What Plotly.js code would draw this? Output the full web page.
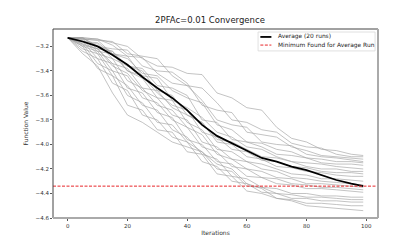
<!DOCTYPE html>
<html>
<head>
<meta charset="utf-8">
<script src="https://cdn.plot.ly/plotly-3.0.1.min.js"></script>
<style>html,body{margin:0;padding:0;background:#fff;}#chart{width:420px;height:245px;}</style>
</head>
<body>
<div id="chart"></div>
<script>
const TITLE = "2PFAc=0.01 Convergence";
const X_LABEL = "Iterations";
const Y_LABEL = "Function Value";
const AVG_NAME = "Average (20 runs)";
const MIN_NAME = "Minimum Found for Average Run";

const iterations = [0,5,10,15,20,25,30,35,40,45,50,55,60,65,70,75,80,85,90,95,99];

const run01 = [-3.13,-3.13,-3.14,-3.17,-3.20,-3.30,-3.36,-3.37,-3.42,-3.43,-3.58,-3.62,-3.70,-3.72,-3.86,-3.95,-3.98,-4.04,-4.05,-4.08,-4.09];
const run02 = [-3.13,-3.14,-3.15,-3.16,-3.26,-3.28,-3.30,-3.44,-3.52,-3.54,-3.66,-3.80,-3.82,-3.88,-3.90,-3.99,-4.02,-4.03,-4.08,-4.10,-4.10];
const run03 = [-3.13,-3.13,-3.20,-3.22,-3.23,-3.36,-3.40,-3.41,-3.50,-3.68,-3.72,-3.74,-3.90,-3.92,-3.94,-4.02,-4.05,-4.09,-4.10,-4.11,-4.12];
const run04 = [-3.13,-3.13,-3.14,-3.19,-3.28,-3.29,-3.42,-3.50,-3.52,-3.64,-3.80,-3.84,-3.86,-3.98,-4.00,-4.01,-4.08,-4.10,-4.11,-4.13,-4.14];
const run05 = [-3.13,-3.16,-3.17,-3.26,-3.30,-3.42,-3.44,-3.56,-3.62,-3.66,-3.84,-3.88,-3.98,-3.99,-4.04,-4.06,-4.11,-4.12,-4.14,-4.14,-4.15];
const run06 = [-3.13,-3.13,-3.22,-3.24,-3.36,-3.38,-3.52,-3.54,-3.60,-3.80,-3.82,-3.96,-3.98,-4.02,-4.08,-4.09,-4.11,-4.15,-4.16,-4.16,-4.17];
const run07 = [-3.13,-3.14,-3.15,-3.26,-3.28,-3.44,-3.46,-3.64,-3.70,-3.78,-3.90,-3.94,-4.02,-4.04,-4.10,-4.14,-4.15,-4.16,-4.18,-4.19,-4.20];
const run08 = [-3.13,-3.17,-3.18,-3.30,-3.36,-3.40,-3.56,-3.60,-3.76,-3.82,-3.96,-3.98,-4.04,-4.10,-4.11,-4.14,-4.18,-4.20,-4.20,-4.22,-4.22];
const run09 = [-3.13,-3.13,-3.20,-3.24,-3.40,-3.44,-3.58,-3.68,-3.72,-3.90,-3.94,-4.04,-4.06,-4.13,-4.14,-4.18,-4.19,-4.22,-4.23,-4.23,-4.24];
const run10 = [-3.13,-3.18,-3.22,-3.34,-3.38,-3.54,-3.56,-3.70,-3.76,-3.82,-3.98,-4.00,-4.10,-4.12,-4.18,-4.19,-4.22,-4.23,-4.25,-4.26,-4.26];
const run11 = [-3.13,-3.14,-3.24,-3.26,-3.40,-3.46,-3.62,-3.64,-3.82,-3.88,-4.04,-4.06,-4.14,-4.16,-4.20,-4.24,-4.25,-4.28,-4.28,-4.29,-4.30];
const run12 = [-3.13,-3.19,-3.22,-3.36,-3.42,-3.56,-3.62,-3.76,-3.80,-3.98,-4.02,-4.12,-4.14,-4.20,-4.22,-4.27,-4.28,-4.30,-4.31,-4.32,-4.33];
const run13 = [-3.13,-3.15,-3.26,-3.30,-3.48,-3.54,-3.68,-3.72,-3.86,-3.92,-4.08,-4.12,-4.20,-4.22,-4.27,-4.28,-4.32,-4.32,-4.33,-4.34,-4.35];
const run14 = [-3.13,-3.20,-3.24,-3.40,-3.44,-3.62,-3.66,-3.80,-3.86,-4.02,-4.06,-4.18,-4.20,-4.27,-4.28,-4.32,-4.33,-4.35,-4.35,-4.36,-4.37];
const run15 = [-3.13,-3.16,-3.30,-3.34,-3.54,-3.58,-3.74,-3.78,-3.96,-4.00,-4.14,-4.16,-4.26,-4.27,-4.32,-4.33,-4.36,-4.36,-4.37,-4.38,-4.39];
const run16 = [-3.13,-3.22,-3.26,-3.44,-3.52,-3.68,-3.72,-3.88,-3.94,-4.08,-4.12,-4.26,-4.28,-4.35,-4.36,-4.40,-4.40,-4.42,-4.42,-4.43,-4.43];
const run17 = [-3.13,-3.18,-3.34,-3.40,-3.60,-3.66,-3.82,-3.84,-3.98,-4.06,-4.20,-4.22,-4.34,-4.35,-4.40,-4.41,-4.43,-4.43,-4.44,-4.45,-4.45];
const run18 = [-3.13,-3.24,-3.30,-3.50,-3.56,-3.76,-3.80,-3.94,-3.98,-4.14,-4.18,-4.30,-4.32,-4.39,-4.40,-4.44,-4.44,-4.46,-4.46,-4.47,-4.47];
const run19 = [-3.13,-3.20,-3.38,-3.44,-3.68,-3.72,-3.88,-3.90,-4.06,-4.08,-4.24,-4.26,-4.38,-4.40,-4.44,-4.45,-4.48,-4.48,-4.49,-4.50,-4.50];
const run20 = [-3.13,-3.26,-3.36,-3.58,-3.76,-3.82,-3.90,-3.98,-4.02,-4.06,-4.16,-4.20,-4.32,-4.36,-4.44,-4.46,-4.50,-4.51,-4.52,-4.53,-4.54];

const average = [-3.13,-3.16,-3.20,-3.27,-3.35,-3.45,-3.54,-3.62,-3.72,-3.84,-3.93,-3.99,-4.05,-4.11,-4.14,-4.18,-4.21,-4.25,-4.29,-4.32,-4.34];
const minimumFound = -4.34;

const yTicks = [-3.2,-3.4,-3.6,-3.8,-4.0,-4.2,-4.4,-4.6];
const yTickText = ["\u22123.2","\u22123.4","\u22123.6","\u22123.8","\u22124.0","\u22124.2","\u22124.4","\u22124.6"];
const xTicks = [0,20,40,60,80,100];

const runs = [run01,run02,run03,run04,run05,run06,run07,run08,run09,run10,run11,run12,run13,run14,run15,run16,run17,run18,run19,run20];

const FONT = "DejaVu Sans, sans-serif";
const RED = "#e8262a";
const traces = runs.map(r => ({
  x: iterations, y: r, mode: "lines", type: "scatter",
  line: {color: "rgba(160,160,160,0.8)", width: 0.8},
  showlegend: false, hoverinfo: "skip"
}));
traces.push({
  x: iterations, y: average, mode: "lines", type: "scatter", name: AVG_NAME,
  line: {color: "#000000", width: 1.8}, showlegend: false
});

// legend box (drawn manually, in paper coordinates)
const LX0 = 0.631, LX1 = 0.991, LY0 = 0.884, LY1 = 0.984;
const legendShapes = [
  {type: "rect", xref: "paper", yref: "paper", x0: LX0, x1: LX1, y0: LY0, y1: LY1,
   line: {color: "#d8d8d8", width: 0.8}, fillcolor: "rgba(255,255,255,0.85)", layer: "above"},
  {type: "line", xref: "paper", yref: "paper", x0: 0.638, x1: 0.672, y0: 0.958, y1: 0.958,
   line: {color: "#000", width: 1.8}, layer: "above"},
  {type: "line", xref: "paper", yref: "paper", x0: 0.638, x1: 0.672, y0: 0.915, y1: 0.915,
   line: {color: RED, width: 1, dash: "3px,1.5px"}, layer: "above"}
];
const legendText = [
  {xref: "paper", yref: "paper", x: 0.685, y: 0.958, xanchor: "left", yanchor: "middle",
   text: AVG_NAME, showarrow: false, font: {size: 5.9, color: "#222", family: FONT}},
  {xref: "paper", yref: "paper", x: 0.685, y: 0.915, xanchor: "left", yanchor: "middle",
   text: MIN_NAME, showarrow: false, font: {size: 5.9, color: "#222", family: FONT}}
];

const layout = {
  width: 420, height: 245,
  margin: {l: 53, r: 42, t: 29, b: 27, pad: 0},
  paper_bgcolor: "#fff", plot_bgcolor: "#fff",
  font: {family: FONT, color: "#333", size: 6},
  title: {text: TITLE, font: {size: 8.5, color: "#222", family: FONT}, x: 0.5, xanchor: "center", y: 0.905, yanchor: "bottom"},
  xaxis: {
    range: [-4.95, 103.95], tickvals: xTicks, showgrid: false, zeroline: false,
    ticks: "outside", ticklen: 2, tickcolor: "#555", tickfont: {size: 5.5, color: "#333"},
    title: {text: X_LABEL, font: {size: 6, color: "#333"}, standoff: 3},
    showline: false
  },
  yaxis: {
    range: [-4.6, -3.058], tickvals: yTicks, ticktext: yTickText, showgrid: false, zeroline: false,
    ticks: "outside", ticklen: 2, tickcolor: "#555", tickfont: {size: 5.5, color: "#333"},
    title: {text: Y_LABEL, font: {size: 6, color: "#333"}, standoff: 6},
    showline: false
  },
  shapes: [
    {type: "line", xref: "paper", yref: "y", x0: 0, x1: 1, y0: minimumFound, y1: minimumFound,
     line: {color: RED, width: 1, dash: "3px,1.5px"}},
    {type: "line", xref: "paper", yref: "paper", x0: 0, x1: 0, y0: 0, y1: 1, line: {color: "#444", width: 1}},
    {type: "line", xref: "paper", yref: "paper", x0: 0, x1: 1, y0: 1, y1: 1, line: {color: "#444", width: 1}},
    {type: "line", xref: "paper", yref: "paper", x0: 0, x1: 1, y0: 0, y1: 0, line: {color: "#aaa", width: 2}},
    {type: "line", xref: "paper", yref: "paper", x0: 1, x1: 1, y0: 0, y1: 1, line: {color: "#aaa", width: 2}}
  ].concat(legendShapes),
  annotations: legendText,
  showlegend: false
};

Plotly.newPlot("chart", traces, layout, {displayModeBar: false, staticPlot: true});
</script>
</body>
</html>
